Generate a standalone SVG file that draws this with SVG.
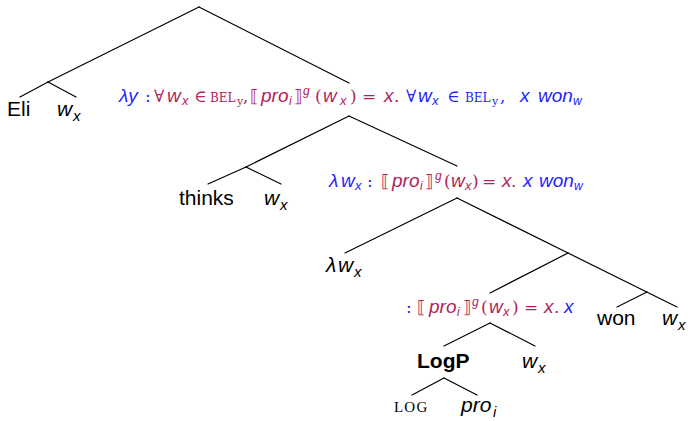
<svg xmlns="http://www.w3.org/2000/svg" width="688" height="421" viewBox="0 0 688 421">
<style>
  .edge { stroke: #000; stroke-width: 1.2; fill: none; stroke-linecap: round; }
  .nt { font-family: "Liberation Sans", Arial, sans-serif; font-size: 21px; fill: #000; }
  .ni { font-family: "Liberation Sans", Arial, sans-serif; font-size: 21px; font-style: italic; fill: #000; }
  .nsub { font-size: 15px; }
  .lab { font-size: 19px; }
  .b { fill: #2424ff; }
  .m { fill: #b0245a; }
  .s { font-family: "Liberation Sans", Arial, sans-serif; font-style: italic; }
  .r { font-family: "DejaVu Serif", "Liberation Serif", serif; font-style: normal; font-size: 17px; }
  .sc { font-family: "DejaVu Serif", "Liberation Serif", serif; font-size: 12px; }
  .sub { font-size: 13px; }
  .sup { font-size: 12px; }
  .sy { font-family: "DejaVu Serif", "Liberation Serif", serif; font-size: 11px; }
</style>
<g id="connectors">
  <line class="edge" x1="199" y1="7" x2="48" y2="82"/>
  <line class="edge" x1="199" y1="7" x2="349" y2="83"/>
  <line class="edge" x1="48" y1="82" x2="20" y2="97"/>
  <line class="edge" x1="48" y1="82" x2="76" y2="97"/>
  <line class="edge" x1="349" y1="116" x2="246" y2="167"/>
  <line class="edge" x1="349" y1="116" x2="457" y2="166"/>
  <line class="edge" x1="246" y1="167" x2="208" y2="184"/>
  <line class="edge" x1="246" y1="167" x2="281" y2="184"/>
  <line class="edge" x1="457" y1="198" x2="345" y2="253"/>
  <line class="edge" x1="457" y1="198" x2="568" y2="253"/>
  <line class="edge" x1="568" y1="253" x2="490" y2="293"/>
  <line class="edge" x1="568" y1="253" x2="677" y2="307"/>
  <line class="edge" x1="647" y1="292" x2="617" y2="307"/>
  <line class="edge" x1="490" y1="323" x2="444" y2="346"/>
  <line class="edge" x1="490" y1="323" x2="535" y2="346"/>
  <line class="edge" x1="444" y1="378" x2="412" y2="395"/>
  <line class="edge" x1="444" y1="378" x2="477" y2="395"/>
</g>
<g id="node-eli"><text class="nt" x="7" y="116">Eli</text></g>
<g id="node-wx1"><text class="ni" x="57" y="116">w<tspan class="nsub" x="73" y="121">x</tspan></text></g>
<g id="node-label1">
<text class="lab" y="102"><tspan class="b s" x="119">λy</tspan><tspan class="b r" x="145">:</tspan><tspan class="m r" x="154">∀</tspan><tspan class="m s" x="167">w</tspan><tspan class="m s sub" x="182" y="105">x</tspan><tspan class="m r" x="194" y="102">∈</tspan><tspan class="m sc" x="210" y="102">BEL</tspan><tspan class="m sy" x="237" y="105">y</tspan><tspan class="m r" x="243" y="102">,</tspan><tspan class="m r" x="250">⟦</tspan><tspan class="m s" x="261">pro</tspan><tspan class="m s sup" x="289" y="105">i</tspan><tspan class="m r" x="294" y="102">⟧</tspan><tspan class="m s sup" x="303" y="95">g</tspan><tspan class="m r" x="315" y="102">(</tspan><tspan class="m s" x="323">w</tspan><tspan class="m s sub" x="340" y="105">x</tspan><tspan class="m r" x="350" y="102">)</tspan><tspan class="m r" x="362">=</tspan><tspan class="m s" x="384">x</tspan><tspan class="m r" x="394">.</tspan><tspan class="b r" x="406">∀</tspan><tspan class="b s" x="418">w</tspan><tspan class="b s sub" x="432" y="105">x</tspan><tspan class="b r" x="447" y="102">∈</tspan><tspan class="b sc" x="465" y="102">BEL</tspan><tspan class="b sy" x="492" y="105">y</tspan><tspan class="b r" x="500" y="102">,</tspan><tspan class="b s" x="520">x</tspan><tspan class="b s" x="538">won</tspan><tspan class="b s sup" x="573" y="105">w</tspan></text>
</g>
<g id="node-thinks"><text class="nt" x="179" y="205">thinks</text></g>
<g id="node-wx2"><text class="ni" x="264" y="205">w<tspan class="nsub" x="280" y="210">x</tspan></text></g>
<g id="node-label2">
<text class="lab" y="187"><tspan class="b s" x="329">λ</tspan><tspan class="b s" x="341">w</tspan><tspan class="b s sub" x="355" y="190">x</tspan><tspan class="b r" x="367" y="187">:</tspan><tspan class="m r" x="381">⟦</tspan><tspan class="m s" x="392">pro</tspan><tspan class="m s sup" x="420" y="190">i</tspan><tspan class="m r" x="425" y="187">⟧</tspan><tspan class="m s sup" x="435" y="180">g</tspan><tspan class="m r" x="444" y="187">(</tspan><tspan class="m s" x="451">w</tspan><tspan class="m s sub" x="465" y="190">x</tspan><tspan class="m r" x="472" y="187">)</tspan><tspan class="m r" x="482">=</tspan><tspan class="m s" x="502">x</tspan><tspan class="m r" x="511">.</tspan><tspan class="b s" x="523">x</tspan><tspan class="b s" x="539">won</tspan><tspan class="b s sup" x="574" y="190">w</tspan></text>
</g>
<g id="node-lambda"><text class="ni" x="326" y="272">λ<tspan x="338">w</tspan><tspan class="nsub" x="354" y="277">x</tspan></text></g>
<g id="node-label3">
<text class="lab" y="313"><tspan class="b r" x="406">:</tspan><tspan class="m r" x="417">⟦</tspan><tspan class="m s" x="429">pro</tspan><tspan class="m s sup" x="457" y="316">i</tspan><tspan class="m r" x="463" y="313">⟧</tspan><tspan class="m s sup" x="472" y="306">g</tspan><tspan class="m r" x="481" y="313">(</tspan><tspan class="m s" x="489">w</tspan><tspan class="m s sub" x="503" y="316">x</tspan><tspan class="m r" x="512" y="313">)</tspan><tspan class="m r" x="524">=</tspan><tspan class="m s" x="544">x</tspan><tspan class="m r" x="554">.</tspan><tspan class="b s" x="564">x</tspan></text>
</g>
<g id="node-won"><text class="nt" x="597" y="325">won</text></g>
<g id="node-wx3"><text class="ni" x="662" y="325">w<tspan class="nsub" x="678" y="330">x</tspan></text></g>
<g id="node-logp"><text class="nt" x="417" y="368" font-weight="bold">LogP</text></g>
<g id="node-wx4"><text class="ni" x="522" y="368">w<tspan class="nsub" x="538" y="373">x</tspan></text></g>
<g id="node-log"><text x="394" y="412" font-family="Liberation Serif, serif" font-size="15" letter-spacing="1.2" fill="#000">LOG</text></g>
<g id="node-pro"><text class="ni" x="461" y="412">pro<tspan class="nsub" x="493" y="417">i</tspan></text></g>
</svg>
